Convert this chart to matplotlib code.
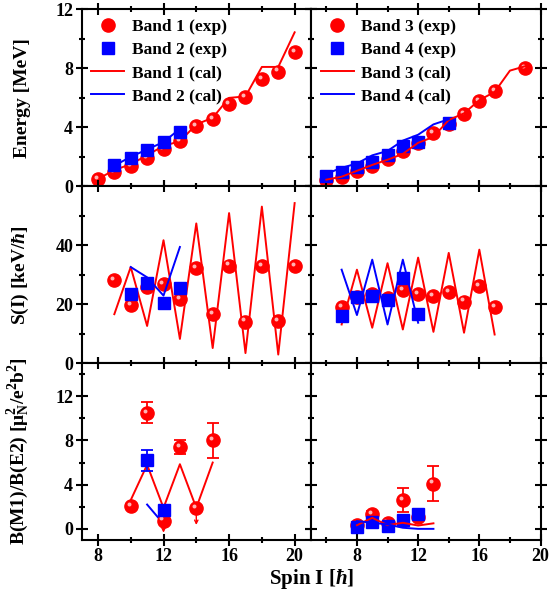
import numpy as np
import matplotlib.pyplot as plt
from matplotlib.transforms import offset_copy
from matplotlib.ticker import MultipleLocator
from matplotlib.lines import Line2D

plt.rcParams['font.family'] = 'Liberation Serif'
plt.rcParams['font.weight'] = 'bold'
plt.rcParams['mathtext.fontset'] = 'custom'
plt.rcParams['mathtext.rm'] = 'Liberation Serif:bold'
plt.rcParams['mathtext.it'] = 'Liberation Serif:italic:bold'
plt.rcParams['mathtext.bf'] = 'Liberation Serif:bold'

# ---------------- energy ----------------
spin_b1 = [8, 9, 10, 11, 12, 13, 14, 15, 16, 17, 18, 19, 20]
e_b1_exp = [0.5, 0.97, 1.35, 1.92, 2.53, 3.09, 4.06, 4.56, 5.58, 6.05, 7.27, 7.79, 9.1]
e_b1_cal = [0.5, 1.1, 1.5, 2.1, 2.75, 3.05, 4.2, 4.65, 6.0, 6.1, 8.1, 8.1, 10.45]
spin_b2 = [9, 10, 11, 12, 13]
e_b2_exp = [1.47, 1.92, 2.44, 2.99, 3.67]
e_b2_cal = [1.4, 2.0, 2.5, 3.0, 3.9]

spin_b3_exp = [6, 7, 8, 9, 10, 11, 12, 13, 14, 15, 16, 17, 19]
e_b3_exp = [0.45, 0.61, 1.02, 1.4, 1.87, 2.37, 2.93, 3.61, 4.25, 4.92, 5.76, 6.48, 8.01]
spin_b3_cal = [6, 7, 8, 9, 10, 11, 12, 13, 14, 15, 16, 17, 18, 19]
e_b3_cal = [0.45, 0.65, 1.05, 1.45, 1.8, 2.2, 2.95, 3.35, 4.5, 4.95, 5.85, 6.4, 7.85, 8.15]
spin_b4_exp = [6, 7, 8, 9, 10, 11, 12, 14]
e_b4_exp = [0.68, 0.95, 1.3, 1.66, 2.1, 2.75, 3.0, 4.27]
spin_b4_cal = [6, 7, 8, 9, 10, 11, 12, 13, 14]
e_b4_cal = [0.85, 1.25, 1.55, 2.1, 2.4, 3.1, 3.5, 4.2, 4.55]

# ---------------- S(I) ----------------
s_spin_b1 = [9, 10, 11, 12, 13, 14, 15, 16, 17, 18, 19, 20]
s_b1_exp = [28.2, 19.7, 25.7, 26.9, 21.7, 32.3, 16.6, 33.1, 14.1, 32.9, 14.3, 32.9]
s_b1_cal = [16.6, 32.6, 12.6, 41.7, 8.2, 47.4, 5.1, 50.9, 3.4, 53.1, 2.9, 54.3]
s_spin_b2 = [10, 11, 12, 13]
s_b2_exp = [23.4, 27.2, 20.3, 25.5]
s_b2_cal = [32.6, 29.1, 22.9, 39.4]

s_spin_b3 = [7, 8, 9, 10, 11, 12, 13, 14, 15, 16, 17]
s_b3_exp = [18.9, 22.3, 23.4, 22.1, 24.9, 23.4, 22.9, 24.2, 20.9, 26.3, 18.9]
s_b3_cal = [13.1, 31.7, 12.0, 33.9, 11.4, 35.8, 10.6, 37.4, 10.3, 38.5, 9.7]
s_spin_b4 = [7, 8, 9, 10, 11, 12]
s_b4_exp = [16.0, 22.5, 22.9, 21.4, 28.9, 16.8]
s_b4_cal = [31.7, 16.3, 35.1, 13.1, 35.1, 13.7]

# ---------------- B(M1)/B(E2) ----------------
r_spin_b1 = [10, 11, 13, 15]
r_b1_exp = [2.1, 10.5, 7.4, 8.0]
r_b1_err = [0.15, 0.95, 0.6, 1.6]
r_lim_b1 = [12, 14]
r_lim_b1_val = [0.75, 1.85]
r_lim_b1_low = [-0.6, 0.1]
r_cal_spin_b1 = [10, 11, 12, 13, 14, 15]
r_b1_cal = [2.6, 5.8, 1.9, 5.85, 1.9, 6.0]
r_spin_b2 = [11, 12]
r_b2_exp = [6.2, 1.67]
r_b2_err = [0.95, 0.4]
r_b2_cal = [2.2, 0.45]

r_spin_b3 = [8, 9, 10, 11, 12, 13]
r_b3_exp = [0.33, 1.36, 0.55, 2.6, 1.06, 4.1]
r_b3_err = [0.15, 0.3, 0.15, 1.1, 0.2, 1.6]
r_cal_spin_b3 = [8, 9, 10, 11, 12, 13]
r_b3_cal = [0.33, 1.0, 0.33, 0.55, 0.3, 0.5]
r_spin_b4 = [8, 9, 10, 11, 12]
r_b4_exp = [0.18, 0.6, 0.24, 0.76, 1.36]
r_b4_err = [0.2, 0.2, 0.45, 0.35, 0.2]
r_cal_spin_b4 = [8, 9, 10, 11, 12, 13]
r_b4_cal = [0.7, 0.55, 0.4, 0.1, 0.0, 0.0]

RED = '#ff0000'
BLUE = '#0000ff'

fig, axs = plt.subplots(3, 2, figsize=(5.51, 5.92), dpi=100)
fig.subplots_adjust(left=0.148, right=0.981, top=0.984, bottom=0.088,
                    hspace=0, wspace=0)


def spheres(ax, x, y, ms=9.5, z=4):
    # red ball with a small highlight to mimic the shaded markers
    ax.plot(x, y, 'o', color=RED, ms=ms, mec=RED, zorder=z)
    tr = offset_copy(ax.transData, fig=fig, x=-1.5, y=1.5, units='points')
    ax.plot(x, y, 'o', color='#ffb3b3', ms=ms * 0.3, mew=0, transform=tr,
            zorder=z + 0.1)


def squares(ax, x, y, ms=8, z=5):
    ax.plot(x, y, 's', color=BLUE, ms=ms, mec=BLUE, zorder=z)


# energy
ax = axs[0, 0]
spheres(ax, spin_b1, e_b1_exp)
squares(ax, spin_b2, e_b2_exp)
ax.plot(spin_b1, e_b1_cal, color=RED, lw=1.4, zorder=3)
ax.plot(spin_b2, e_b2_cal, color=BLUE, lw=1.4, zorder=3)

ax = axs[0, 1]
spheres(ax, spin_b3_exp, e_b3_exp)
squares(ax, spin_b4_exp, e_b4_exp)
ax.plot(spin_b3_cal, e_b3_cal, color=RED, lw=1.4, zorder=6)
ax.plot(spin_b4_cal, e_b4_cal, color=BLUE, lw=1.4, zorder=6)

# S(I)
ax = axs[1, 0]
ax.plot(s_spin_b1, s_b1_cal, color=RED, lw=1.4, zorder=3)
ax.plot(s_spin_b2, s_b2_cal, color=BLUE, lw=1.4, zorder=6)
spheres(ax, s_spin_b1, s_b1_exp)
squares(ax, s_spin_b2, s_b2_exp)

ax = axs[1, 1]
ax.plot(s_spin_b3, s_b3_cal, color=RED, lw=1.4, zorder=3)
ax.plot(s_spin_b4, s_b4_cal, color=BLUE, lw=1.4, zorder=6)
spheres(ax, s_spin_b3, s_b3_exp)
squares(ax, s_spin_b4, s_b4_exp)

# B(M1)/B(E2)
ax = axs[2, 0]
ax.plot(r_cal_spin_b1, r_b1_cal, color=RED, lw=1.4, zorder=3)
ax.plot(r_spin_b2, r_b2_cal, color=BLUE, lw=1.4, zorder=3)
ax.errorbar(r_spin_b1, r_b1_exp, yerr=r_b1_err, fmt='none', ecolor=RED,
            elinewidth=1.3, capsize=4.5, capthick=1.3, zorder=4)
spheres(ax, r_spin_b1, r_b1_exp)
spheres(ax, r_lim_b1, r_lim_b1_val)
for xs, y0, y1 in zip(r_lim_b1, r_lim_b1_val, r_lim_b1_low):
    ax.annotate('', xy=(xs, y1), xytext=(xs, y0),
                arrowprops=dict(arrowstyle='->', color=RED, lw=1.0,
                                mutation_scale=6), zorder=3)
ax.errorbar(r_spin_b2, r_b2_exp, yerr=r_b2_err, fmt='none', ecolor=BLUE,
            elinewidth=1.3, capsize=4.5, capthick=1.3, zorder=5)
squares(ax, r_spin_b2, r_b2_exp)

ax = axs[2, 1]
ax.plot(r_cal_spin_b3, r_b3_cal, color=RED, lw=1.4, zorder=6)
ax.plot(r_cal_spin_b4, r_b4_cal, color=BLUE, lw=1.4, zorder=6)
ax.errorbar(r_spin_b3, r_b3_exp, yerr=r_b3_err, fmt='none', ecolor=RED,
            elinewidth=1.3, capsize=4.5, capthick=1.3, zorder=4)
spheres(ax, r_spin_b3, r_b3_exp)
ax.errorbar(r_spin_b4, r_b4_exp, yerr=r_b4_err, fmt='none', ecolor=BLUE,
            elinewidth=1.3, capsize=4.5, capthick=1.3, zorder=5)
squares(ax, r_spin_b4, r_b4_exp)

# axes styling
ylims = [(0, 12), (0, 60), (-1, 15)]
ymaj = [4, 20, 4]
ymin = [2, 10, 2]
xlims = [(7, 21), (5, 20)]
for i in range(3):
    for j in range(2):
        ax = axs[i, j]
        ax.set_xlim(*xlims[j])
        ax.set_ylim(*ylims[i])
        ax.xaxis.set_major_locator(MultipleLocator(4))
        ax.xaxis.set_minor_locator(MultipleLocator(2))
        ax.yaxis.set_major_locator(MultipleLocator(ymaj[i]))
        ax.yaxis.set_minor_locator(MultipleLocator(ymin[i]))
        ax.tick_params(which='both', direction='inout', top=True, right=True,
                       width=1.5, labelsize=13)
        ax.tick_params(which='major', length=8)
        ax.tick_params(which='minor', length=5)
        ax.tick_params(labelbottom=(i == 2), labelleft=(j == 0), pad=2)
        for s in ax.spines.values():
            s.set_linewidth(1.5)

axs[1, 0].set_yticks([0, 20, 40])
axs[1, 0].yaxis.set_minor_locator(MultipleLocator(10))
axs[2, 0].set_yticks([0, 4, 8, 12])
axs[2, 1].set_yticks([0, 4, 8, 12])
axs[2, 0].set_xticks([8, 12, 16, 20])
axs[2, 1].set_xticks([8, 12, 16, 20])
for ax in axs.flat:
    for lab in ax.get_xticklabels() + ax.get_yticklabels():
        lab.set_fontweight('bold')

axs[0, 0].set_ylabel('Energy [MeV]', fontsize=14, fontweight='bold')
axs[1, 0].set_ylabel(r'S(I) [keV/$\hbar$]', fontsize=14, fontweight='bold')
axs[2, 0].set_ylabel(r'B(M1)/B(E2) [$\mathrm{\mu}_\mathrm{N}^2$/e$^2$b$^2$]',
                     fontsize=14, fontweight='bold')
for i in range(3):
    axs[i, 0].yaxis.set_label_coords(-0.22, 0.5)

fig.text(0.565, 0.022, r'Spin I [$\hbar$]', ha='center', va='center',
         fontsize=15, fontweight='bold')

# legends
h1 = [Line2D([], [], marker='o', ls='none', color=RED, ms=9.5),
      Line2D([], [], marker='s', ls='none', color=BLUE, ms=8),
      Line2D([], [], color=RED, lw=1.4),
      Line2D([], [], color=BLUE, lw=1.4)]
leg_kw = dict(loc='upper left', frameon=False, fontsize=12.5,
              handlelength=1.9, handletextpad=0.45, labelspacing=0.4,
              borderaxespad=0.35, borderpad=0.2)
axs[0, 0].legend(h1, ['Band 1 (exp)', 'Band 2 (exp)', 'Band 1 (cal)', 'Band 2 (cal)'],
                 **leg_kw)
axs[0, 1].legend(h1, ['Band 3 (exp)', 'Band 4 (exp)', 'Band 3 (cal)', 'Band 4 (cal)'],
                 **leg_kw)

fig.savefig('out.png', dpi=100)
